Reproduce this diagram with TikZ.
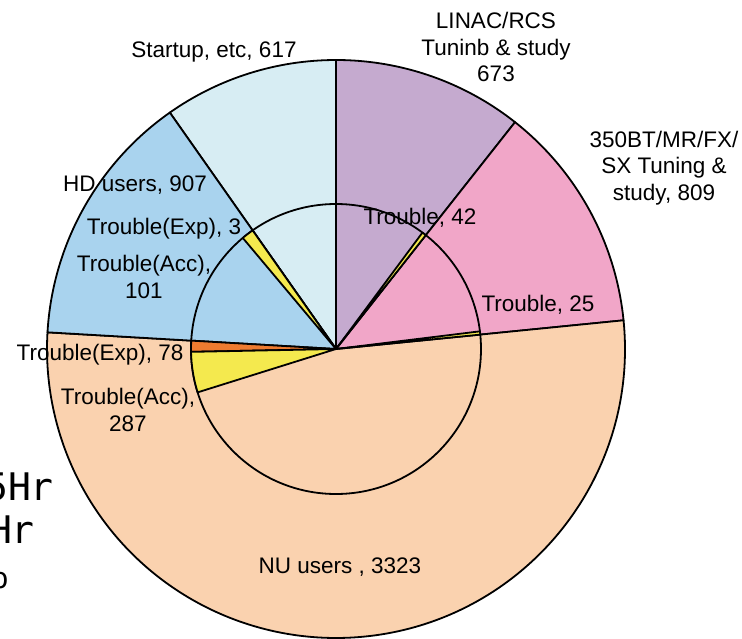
\documentclass[tikz,border=0pt]{standalone}
\usepackage{fontspec}
\usepackage{xcolor}
\setmainfont{Liberation Sans}
\newfontfamily\sidefont{DejaVu Sans Mono}

\definecolor{startupc}{HTML}{D7EDF3}
\definecolor{linacc}{HTML}{C5AACF}
\definecolor{btc}{HTML}{F1A6C8}
\definecolor{nuc}{HTML}{FAD2AF}
\definecolor{hdc}{HTML}{A9D3EE}
\definecolor{accc}{HTML}{F4E94E}
\definecolor{expc}{HTML}{EE7B30}

\tikzset{
  sector/.style={draw=black,line width=1.8pt,line join=round},
  pielabel/.style={inner sep=0pt,align=center,font=\fontsize{22.5}{26.5}\selectfont},
}

\begin{document}
\begin{tikzpicture}[x=1pt,y=1pt]
  \useasboundingbox (-336,-289) rectangle (406,349);
  \def\R{289}
  \def\r{145}
  % outer ring: one sector per group
  \filldraw[sector,fill=startupc] (0,0) -- (125.10:\R) arc[start angle=125.10,end angle=90,radius=\R] -- cycle;
  \filldraw[sector,fill=linacc] (0,0) -- (90:\R) arc[start angle=90,end angle=51.72,radius=\R] -- cycle;
  \filldraw[sector,fill=btc] (0,0) -- (51.72:\R) arc[start angle=51.72,end angle=5.70,radius=\R] -- cycle;
  \filldraw[sector,fill=nuc] (0,0) -- (5.70:\R) arc[start angle=5.70,end angle=-183.31,radius=\R] -- cycle;
  \filldraw[sector,fill=hdc] (0,0) -- (176.69:\R) arc[start angle=176.69,end angle=125.10,radius=\R] -- cycle;
  \draw[sector] (0,0) circle[radius=\r];
  % trouble wedges, inner ring only
  \filldraw[sector,fill=accc] (0,0) -- (53.4:\r) arc[start angle=53.4,end angle=51.72,radius=\r] -- cycle;%42
  \filldraw[sector,fill=accc] (0,0) -- (7.0:\r) arc[start angle=7.0,end angle=5.70,radius=\r] -- cycle;%25
  \filldraw[sector,fill=expc] (0,0) -- (181.13:\r) arc[start angle=181.13,end angle=176.69,radius=\r] -- cycle;%78
  \filldraw[sector,fill=accc] (0,0) -- (197.4:\r) arc[start angle=197.4,end angle=181.13,radius=\r] -- cycle;%287
  \filldraw[sector,fill=accc] (0,0) -- (130:\r) arc[start angle=130,end angle=125.10,radius=\r] -- cycle;%3

  \tikzstyle{every node}=[pielabel]
  \node (linac) at (160,302) {LINAC/RCS\\Tuninb \& study\\673};
  \node (bt) at (328,181) {350BT/MR/FX/\\SX Tuning \&\\study, 809};
  \node (startup) at (-122,297) {Startup, etc, 617};
  \node (hd) at (-201,164) {HD users, 907};
  \node (hdexp) at (-172,120) {Trouble(Exp), 3};
  \node (hdacc) at (-192,72) {Trouble(Acc),\\101};
  \node (linact) at (84,131) {Trouble, 42};
  \node (btt) at (202,44) {Trouble, 25};
  \node (nuexp) at (-236,-6) {Trouble(Exp), 78};
  \node (nuacc) at (-208,-61) {Trouble(Acc),\\287};
  \node (nu) at (4,-218) {NU users , 3323};
  % text running in from the left edge
  \node[anchor=base east,font=\sidefont\fontsize{38}{40}\selectfont] (side1) at (-282,-151) {5Hr};
  \node[anchor=base east,font=\sidefont\fontsize{38}{40}\selectfont] (side2) at (-301,-194) {Hr};
  \node[anchor=base east,font=\sidefont\fontsize{29}{31}\selectfont] (side3) at (-327,-239) {o};
\end{tikzpicture}
\end{document}
